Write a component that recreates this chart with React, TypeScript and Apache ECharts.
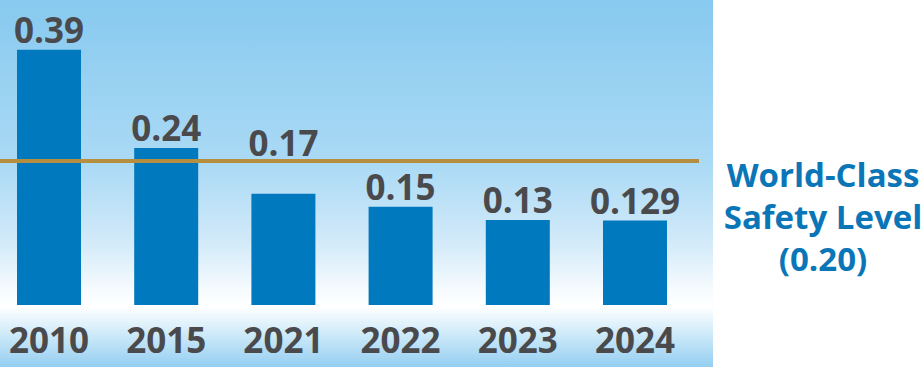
import React, { useEffect, useRef } from "react";
import * as echarts from "echarts";

const categories = ["2010", "2015", "2021", "2022", "2023", "2024"];
const values = [0.39, 0.24, 0.17, 0.15, 0.13, 0.129];
const valueLabels = ["0.39", "0.24", "0.17", "0.15", "0.13", "0.129"];
const benchmarkText = ["World-Class", "Safety Level", "(0.20)"];
// level at which the reference draws its gold benchmark line on the bar scale
const benchmarkDrawnLevel = 0.2208;

const FONT = "'Open Sans', 'Noto Sans', sans-serif";

export default function App() {
  const ref = useRef<HTMLDivElement>(null);
  useEffect(() => {
    document.body.style.margin = "0";
    const chart = echarts.init(ref.current!, null, { renderer: "svg" });
    chart.setOption({
      animation: false,
      grid: { left: 49, width: 586, top: 0, bottom: 62 },
      xAxis: {
        type: "category",
        data: categories,
        boundaryGap: false,
        axisLine: { show: false },
        axisTick: { show: false },
        axisLabel: {
          fontFamily: FONT,
          fontWeight: "bold",
          fontSize: 35,
          color: "#4a4a4d",
          margin: 17,
        },
      },
      yAxis: { type: "value", min: 0, max: 0.466, show: false },
      graphic: [
        {
          type: "rect",
          z: -10,
          silent: true,
          shape: { x: 0, y: 0, width: 713, height: 367 },
          style: {
            fill: new echarts.graphic.LinearGradient(0, 0, 0, 1, [
              { offset: 0, color: "#87c9ef" },
              { offset: 0.45, color: "#abdaf5" },
              { offset: 0.65, color: "#d0e9f9" },
              { offset: 0.79, color: "#f6fbfe" },
              { offset: 0.835, color: "#ffffff" },
              { offset: 0.9, color: "#d5edfa" },
              { offset: 1, color: "#94cef1" },
            ]),
          },
        },
        {
          type: "text",
          x: 823,
          y: 153,
          silent: true,
          style: {
            text: benchmarkText.join("\n"),
            fontFamily: FONT,
            fontWeight: "bold",
            fontSize: 33,
            lineHeight: 42,
            fill: "#0a76b7",
            align: "center",
            verticalAlign: "top",
          },
        },
      ],
      series: [
        {
          type: "bar",
          barWidth: 64,
          data: values.map((v, i) => ({
            value: v,
            label: i === 2 ? { offset: [0, -31] } : undefined,
          })),
          itemStyle: { color: "#0079be" },
          label: {
            show: true,
            position: "top",
            distance: 3,
            formatter: (p: any) => valueLabels[p.dataIndex],
            fontFamily: FONT,
            fontWeight: "bold",
            fontSize: 35,
            color: "#4a4a4d",
          },
          markLine: {
            silent: true,
            symbol: "none",
            label: { show: false },
            lineStyle: { color: "#b58f3f", width: 4, type: "solid", opacity: 1 },
            emphasis: { disabled: true },
            data: [
              [
                { x: 0, yAxis: benchmarkDrawnLevel },
                { x: 699, yAxis: benchmarkDrawnLevel },
              ],
            ],
          },
        },
      ],
    });
    return () => chart.dispose();
  }, []);
  return <div ref={ref} style={{ width: 923, height: 367 }} />;
}
